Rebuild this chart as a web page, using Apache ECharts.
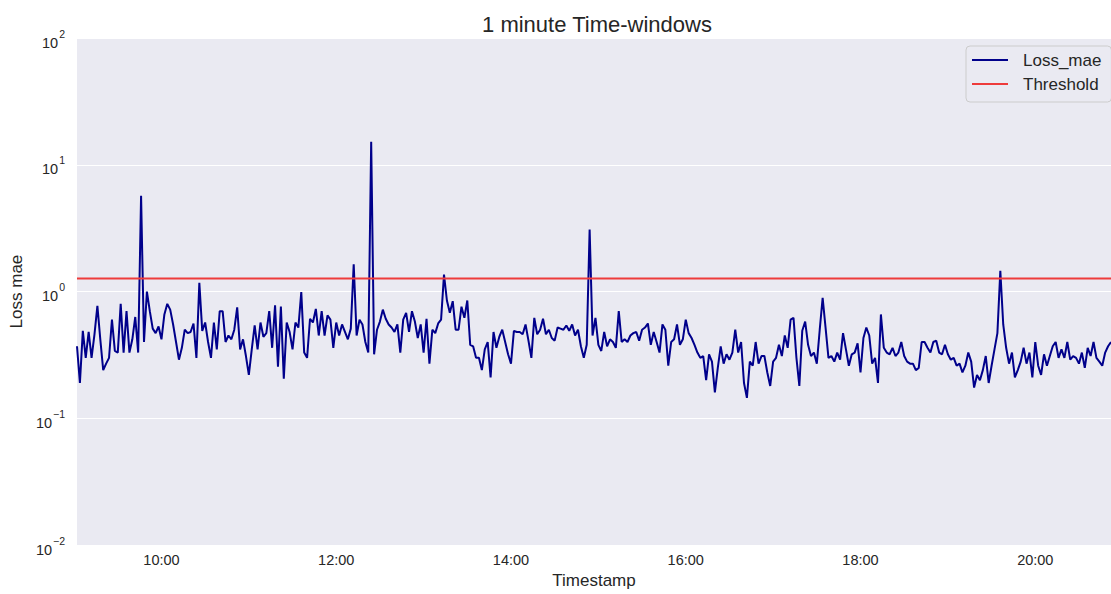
<!DOCTYPE html>
<html>
<head>
<meta charset="utf-8">
<title>1 minute Time-windows</title>
<script src="https://cdn.jsdelivr.net/npm/echarts@6/dist/echarts.min.js"></script>
<style>
  html, body { margin: 0; padding: 0; background: #ffffff; }
  #chart { width: 1111px; height: 594px; }
</style>
</head>
<body>
<div id="chart"></div>
<script>
// Loss (MAE) per time window, one value every two minutes starting 09:02
const startMinute = 542;
const stepMinutes = 2;

const lossMorning = [
  0.37, 0.19, 0.49, 0.30, 0.48, 0.30, 0.46, 0.77, 0.42, 0.24,
  0.27, 0.30, 0.60, 0.34, 0.33, 0.80, 0.33, 0.70, 0.33, 0.42,
  0.63, 0.33, 5.7, 0.40, 1.0, 0.70, 0.51, 0.47, 0.53, 0.42,
  0.66, 0.80, 0.72, 0.55, 0.40, 0.29, 0.36, 0.50, 0.47, 0.48,
  0.56, 0.30, 1.17, 0.49, 0.57, 0.40, 0.30, 0.57, 0.35, 0.70,
  0.70, 0.40, 0.45, 0.42, 0.50, 0.75, 0.35, 0.42, 0.31, 0.22,
  0.35, 0.54, 0.35, 0.57, 0.44, 0.47, 0.70, 0.36, 0.78, 0.255,
  0.76, 0.205, 0.57, 0.48, 0.35, 0.57, 0.52, 0.99, 0.33, 0.30,
  0.61, 0.57, 0.73, 0.45, 0.70, 0.45, 0.65, 0.60, 0.36, 0.57
];
const lossMidday = [
  0.45, 0.55, 0.48, 0.42, 0.51, 1.64, 0.45, 0.60, 0.55, 0.40,
  0.33, 15.2, 0.32, 0.50, 0.58, 0.72, 0.61, 0.55, 0.52, 0.48,
  0.55, 0.33, 0.60, 0.68, 0.48, 0.70, 0.58, 0.43, 0.55, 0.33,
  0.61, 0.27, 0.50, 0.47, 0.56, 0.60, 1.36, 0.85, 0.68, 0.84,
  0.50, 0.50, 0.76, 0.62, 0.85, 0.38, 0.37, 0.30, 0.30, 0.24,
  0.35, 0.40, 0.21, 0.48, 0.36, 0.44, 0.50, 0.40, 0.32, 0.27,
  0.49, 0.48, 0.48, 0.46, 0.55, 0.41, 0.30, 0.62, 0.46, 0.50,
  0.61, 0.46, 0.50, 0.43, 0.41, 0.52, 0.51, 0.50, 0.54, 0.49,
  0.55, 0.45, 0.50, 0.37, 0.30, 0.38, 3.08, 0.45, 0.62, 0.38
];
const lossAfternoon = [
  0.34, 0.48, 0.37, 0.42, 0.40, 0.36, 0.70, 0.40, 0.42, 0.40,
  0.45, 0.47, 0.48, 0.41, 0.50, 0.52, 0.56, 0.38, 0.48, 0.40,
  0.33, 0.55, 0.50, 0.26, 0.40, 0.42, 0.55, 0.38, 0.42, 0.60,
  0.47, 0.43, 0.38, 0.33, 0.30, 0.31, 0.20, 0.32, 0.28, 0.16,
  0.25, 0.37, 0.27, 0.32, 0.29, 0.33, 0.50, 0.33, 0.40, 0.19,
  0.145, 0.28, 0.26, 0.40, 0.27, 0.31, 0.31, 0.23, 0.18, 0.28,
  0.30, 0.38, 0.31, 0.45, 0.36, 0.60, 0.62, 0.30, 0.18, 0.49,
  0.58, 0.38, 0.31, 0.33, 0.27, 0.50, 0.89, 0.52, 0.30, 0.31,
  0.28, 0.33, 0.29, 0.47, 0.35, 0.26, 0.32, 0.33, 0.39, 0.23
];
const lossEvening = [
  0.43, 0.52, 0.45, 0.27, 0.30, 0.19, 0.66, 0.36, 0.33, 0.32,
  0.36, 0.31, 0.33, 0.40, 0.31, 0.28, 0.27, 0.27, 0.24, 0.25,
  0.40, 0.40, 0.36, 0.33, 0.40, 0.41, 0.33, 0.32, 0.38, 0.32,
  0.29, 0.30, 0.26, 0.27, 0.23, 0.26, 0.33, 0.28, 0.175, 0.22,
  0.20, 0.24, 0.31, 0.19, 0.26, 0.35, 0.47, 1.46, 0.55, 0.36,
  0.27, 0.33, 0.21, 0.24, 0.28, 0.36, 0.27, 0.33, 0.21, 0.40,
  0.26, 0.22, 0.32, 0.26, 0.31, 0.37, 0.40, 0.30, 0.35, 0.30,
  0.40, 0.29, 0.31, 0.30, 0.27, 0.33, 0.25, 0.36, 0.31, 0.40,
  0.30, 0.28, 0.26, 0.33, 0.37, 0.40
];

const thresholdValue = 1.27;

// x tick labels (minutes since midnight)
const timeTickMinutes = [600, 720, 840, 960, 1080, 1200];
const seriesNames = ['Loss_mae', 'Threshold'];

const lossMae = [].concat(lossMorning, lossMidday, lossAfternoon, lossEvening);
const endMinute = startMinute + (lossMae.length - 1) * stepMinutes;
const lossPoints = lossMae.map((v, i) => [startMinute + i * stepMinutes, v]);
const thresholdPoints = [[startMinute, thresholdValue], [endMinute, thresholdValue]];

const FONT = '"Liberation Sans", Arial, Helvetica, sans-serif';
const TEXT = '#262626';

function hhmm(m) {
  const h = Math.floor(m / 60), mm = Math.round(m % 60);
  return String(h).padStart(2, '0') + ':' + String(mm).padStart(2, '0');
}
// decade labels drawn as 10 with a raised exponent
function powerLabel(v) {
  const e = Math.round(Math.log10(v));
  const exp = e < 0 ? '\u2212' + (-e) : String(e);
  return '{b|10}{s|' + exp + '}';
}

const chart = echarts.init(document.getElementById('chart'), null, { renderer: 'svg' });
chart.setOption({
  animation: false,
  backgroundColor: '#ffffff',
  textStyle: { fontFamily: FONT, color: TEXT },
  grid: {
    left: 75, right: 0, top: 38, bottom: 47,
    show: true, backgroundColor: '#EAEAF2', borderWidth: 0,
    containLabel: false
  },
  graphic: [{
    type: 'text',
    x: 597, y: 24,
    style: {
      text: '1 minute Time-windows',
      fontSize: 22, fontFamily: FONT, fill: TEXT,
      align: 'center', verticalAlign: 'middle',
      textAlign: 'center', textVerticalAlign: 'middle'
    }
  }],
  legend: {
    data: seriesNames,
    orient: 'vertical',
    left: 966, top: 46,
    icon: 'rect', itemWidth: 36, itemHeight: 2, itemGap: 4,
    padding: [4, 10, 8, 6],
    backgroundColor: '#EAEAF2',
    borderColor: '#CCCCCC', borderWidth: 1, borderRadius: 4,
    textStyle: { fontSize: 17, color: TEXT, fontFamily: FONT, lineHeight: 20, padding: [0, 0, 0, 10] }
  },
  xAxis: {
    type: 'value',
    min: startMinute, max: endMinute,
    name: 'Timestamp', nameLocation: 'middle', nameGap: 18,
    nameTextStyle: { fontSize: 17, color: TEXT, fontFamily: FONT },
    axisLine: { show: false }, axisTick: { show: false }, splitLine: { show: false },
    axisLabel: {
      customValues: timeTickMinutes,
      formatter: hhmm,
      fontSize: 14.5, color: TEXT, fontFamily: FONT, margin: 7
    }
  },
  yAxis: {
    type: 'log', logBase: 10, min: 0.01, max: 100, splitNumber: 4,
    name: 'Loss mae', nameLocation: 'middle', nameGap: 50, nameRotate: 90,
    nameTextStyle: { fontSize: 17, color: TEXT, fontFamily: FONT },
    axisLine: { show: false }, axisTick: { show: false },
    splitLine: { show: true, lineStyle: { color: '#ffffff', width: 1.2 } },
    minorSplitLine: { show: false },
    axisLabel: {
      showMinLabel: true, showMaxLabel: true,
      margin: 12,
      padding: [8, 0, 0, 0],
      formatter: powerLabel,
      rich: {
        b: { fontSize: 14.5, color: TEXT, fontFamily: FONT, lineHeight: 16, verticalAlign: 'bottom' },
        s: { fontSize: 10.5, color: TEXT, fontFamily: FONT, lineHeight: 12, padding: [12, 0, 11, 1], verticalAlign: 'bottom' }
      }
    }
  },
  series: [
    {
      name: seriesNames[0], type: 'line', data: lossPoints,
      symbol: 'none', silent: true,
      lineStyle: { color: '#00008B', width: 2 },
      itemStyle: { color: '#00008B' }
    },
    {
      name: seriesNames[1], type: 'line', data: thresholdPoints,
      symbol: 'none', silent: true,
      lineStyle: { color: '#EE3B3B', width: 2 },
      itemStyle: { color: '#EE3B3B' }
    }
  ]
});
</script>
</body>
</html>
